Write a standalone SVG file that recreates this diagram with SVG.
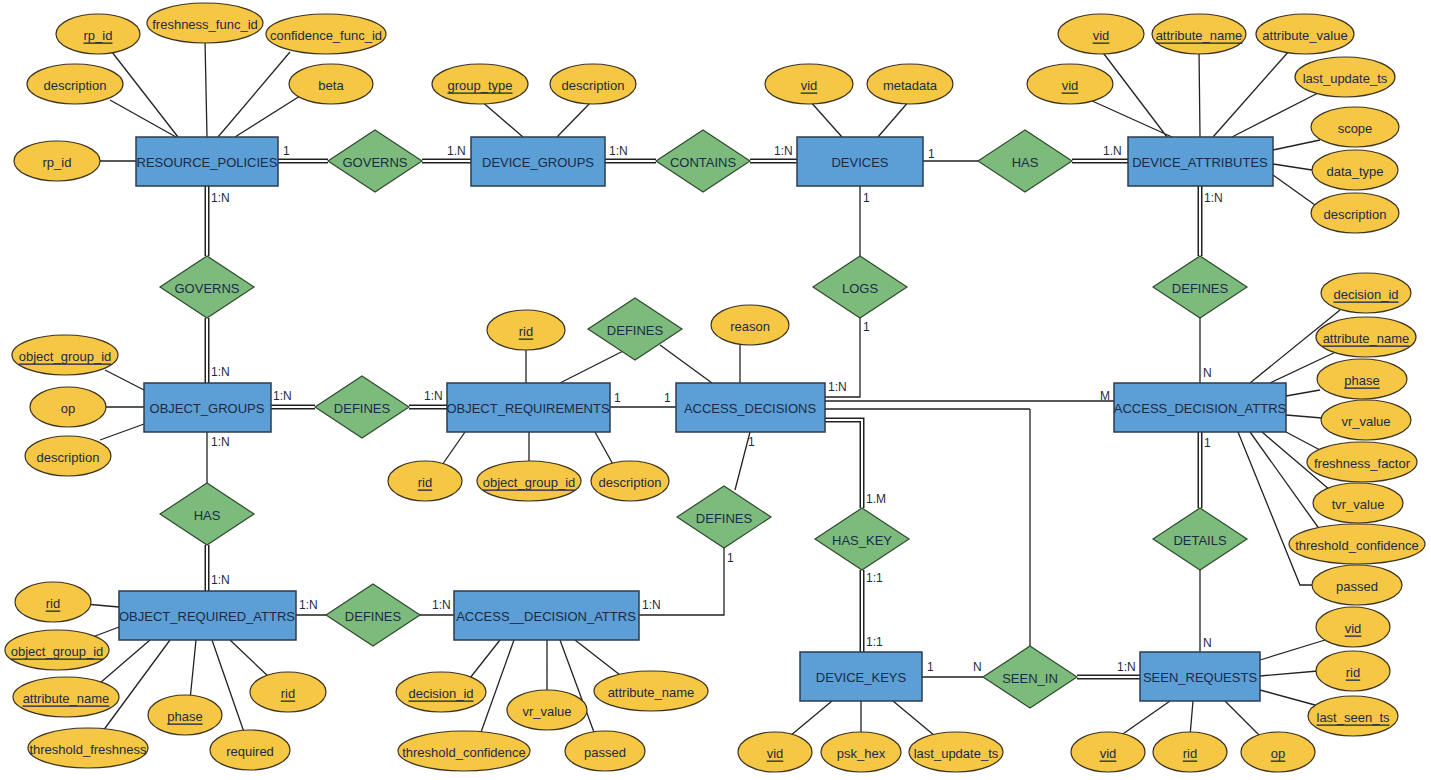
<svg xmlns="http://www.w3.org/2000/svg" width="1431" height="780" viewBox="0 0 1431 780">
<style>
text{font-family:"Liberation Sans",Arial,sans-serif;fill:#1c2b45;text-anchor:middle;dominant-baseline:central}
.en rect{fill:#5b9fd6;stroke:#2e3b4e;stroke-width:1.5}
.en text{font-size:13px}
.rl polygon{fill:#7dbb7d;stroke:#2e4a2e;stroke-width:1.2}
.rl text{font-size:13px}
.at ellipse{fill:#f6c744;stroke:#3a3320;stroke-width:1.2}
.at text{font-size:13px}
.u{text-decoration:underline}
.s{stroke:#222;stroke-width:1.3;fill:none}
.d1{stroke:#222;stroke-width:5;fill:none}
.d2{stroke:#fff;stroke-width:2;fill:none}
.lb{font-size:12px;text-anchor:start}
</style>
<rect width="1431" height="780" fill="#fff"/>
<g id="connectors">
<path class="s" d="M923,161H978 M860,186V256 M860,318V397H825 M1200,318V383 M610,407H676 M635,345L560,383 M660,345L712,383 M750,432L735,490 M724,548V615H639 M207,432V483 M296,615H326 M420,615H454 M1030,409V646 M825,401H1114 M825,409H1030 M1200,570V652 M922,677H983
M98,34L178,137 M205,40L207,137 M290,52L218,137 M110,100L176,137 M300,96L235,137 M100,161H136
M480,100L523,137 M593,100L557,137 M809,100L842,137 M910,100L878,137
M1101,50L1167,137 M1199,50L1200,137 M1290,50L1213,137 M1090,100L1172,137 M1320,92L1232,137 M1320,140L1273,150 M1312,170L1273,164 M1315,205L1273,175
M105,370L144,390 M68,407H144 M100,440L144,424
M526,345V383 M740,340V383 M440,468L465,432 M529,468V432 M615,468L595,432
M1340,310L1250,383 M1340,350L1270,383 M1320,390L1286,396 M1322,418L1286,415 M1320,450L1286,432 M1330,490L1262,432 M1320,530L1250,432 M1312,585H1300L1238,432
M85,604L119,607 M90,638L119,627 M100,683L150,640 M100,735L170,640 M190,700L196,640 M245,735L212,640 M270,678L230,640
M470,678L500,640 M480,735L514,640 M547,693V640 M595,735L560,640 M620,675L575,640
M790,736L832,701 M861,736V701 M935,736L893,701
M1325,640L1260,660 M1318,671L1260,676 M1315,705L1260,690 M1120,736L1170,701 M1190,736L1193,701 M1260,736L1225,701"/>
<path class="d1" d="M278,161H328 M422,161H471 M605,161H656 M750,161H797 M1072,161H1128 M207,186V256 M207,318V383 M1200,186V256 M271,407H315 M409,407H447 M207,545V591 M825,420H862V508 M862,570V652 M1200,432V508 M1077,677H1140"/>
<path class="d2" d="M278,161H328 M422,161H471 M605,161H656 M750,161H797 M1072,161H1128 M207,186V256 M207,318V383 M1200,186V256 M271,407H315 M409,407H447 M207,545V591 M825,420H862V508 M862,570V652 M1200,432V508 M1077,677H1140"/>
<g class="lbs">
<text class="lb" x="283" y="151">1</text><text class="lb" x="447" y="151">1.N</text>
<text class="lb" x="609" y="151">1:N</text><text class="lb" x="774" y="151">1:N</text>
<text class="lb" x="928" y="154">1</text><text class="lb" x="1103" y="151">1.N</text>
<text class="lb" x="211" y="198">1:N</text><text class="lb" x="1204" y="198">1:N</text>
<text class="lb" x="863" y="198">1</text><text class="lb" x="863" y="327">1</text>
<text class="lb" x="828" y="387">1:N</text><text class="lb" x="1203" y="373">N</text>
<text class="lb" x="1100" y="396">M</text><text class="lb" x="211" y="372">1:N</text>
<text class="lb" x="273" y="396">1:N</text><text class="lb" x="424" y="396">1:N</text>
<text class="lb" x="614" y="398">1</text><text class="lb" x="664" y="398">1</text>
<text class="lb" x="211" y="442">1:N</text><text class="lb" x="748" y="442">1</text>
<text class="lb" x="727" y="558">1</text><text class="lb" x="211" y="580">1:N</text>
<text class="lb" x="299" y="605">1:N</text><text class="lb" x="432" y="605">1:N</text>
<text class="lb" x="642" y="605">1:N</text><text class="lb" x="866" y="499">1.M</text>
<text class="lb" x="866" y="578">1:1</text><text class="lb" x="866" y="642">1:1</text>
<text class="lb" x="927" y="667">1</text><text class="lb" x="973" y="667">N</text>
<text class="lb" x="1117" y="667">1:N</text><text class="lb" x="1204" y="443">1</text>
<text class="lb" x="1203" y="643">N</text>
</g>
</g>
<g id="entities" class="en">
<g id="e_rp"><rect x="136" y="137" width="142" height="49"/><text x="207" y="162">RESOURCE_POLICIES</text></g>
<g id="e_dg"><rect x="471" y="137" width="134" height="49"/><text x="538" y="162">DEVICE_GROUPS</text></g>
<g id="e_dev"><rect x="797" y="137" width="126" height="49"/><text x="860" y="162">DEVICES</text></g>
<g id="e_da"><rect x="1128" y="137" width="145" height="49"/><text x="1200" y="162">DEVICE_ATTRIBUTES</text></g>
<g id="e_og"><rect x="144" y="383" width="127" height="49"/><text x="207" y="408">OBJECT_GROUPS</text></g>
<g id="e_or"><rect x="447" y="383" width="163" height="49"/><text x="528" y="408">OBJECT_REQUIREMENTS</text></g>
<g id="e_ad"><rect x="676" y="383" width="149" height="49"/><text x="750" y="408">ACCESS_DECISIONS</text></g>
<g id="e_ada"><rect x="1114" y="383" width="172" height="49"/><text x="1200" y="408">ACCESS_DECISION_ATTRS</text></g>
<g id="e_ora"><rect x="119" y="591" width="177" height="49"/><text x="207" y="616">OBJECT_REQUIRED_ATTRS</text></g>
<g id="e_ada2"><rect x="454" y="591" width="185" height="49"/><text x="546" y="616">ACCESS__DECISION_ATTRS</text></g>
<g id="e_dk"><rect x="800" y="652" width="122" height="49"/><text x="861" y="677">DEVICE_KEYS</text></g>
<g id="e_sr"><rect x="1140" y="652" width="120" height="49"/><text x="1200" y="677">SEEN_REQUESTS</text></g>
</g>
<g id="relations" class="rl">
<g id="r1"><polygon points="328,161 375,130 422,161 375,192"/><text x="375" y="162">GOVERNS</text></g>
<g id="r2"><polygon points="656,161 703,130 750,161 703,192"/><text x="703" y="162">CONTAINS</text></g>
<g id="r3"><polygon points="978,161 1025,130 1072,161 1025,192"/><text x="1025" y="162">HAS</text></g>
<g id="r4"><polygon points="160,287 207,256 254,287 207,318"/><text x="207" y="288">GOVERNS</text></g>
<g id="r5"><polygon points="813,287 860,256 907,287 860,318"/><text x="860" y="288">LOGS</text></g>
<g id="r6"><polygon points="1153,287 1200,256 1247,287 1200,318"/><text x="1200" y="288">DEFINES</text></g>
<g id="r7"><polygon points="315,407 362,376 409,407 362,438"/><text x="362" y="408">DEFINES</text></g>
<g id="r8"><polygon points="588,329 635,298 682,329 635,360"/><text x="635" y="330">DEFINES</text></g>
<g id="r9"><polygon points="677,517 724,486 771,517 724,548"/><text x="724" y="518">DEFINES</text></g>
<g id="r10"><polygon points="160,514 207,483 254,514 207,545"/><text x="207" y="515">HAS</text></g>
<g id="r11"><polygon points="815,539 862,508 909,539 862,570"/><text x="862" y="540">HAS_KEY</text></g>
<g id="r12"><polygon points="1153,539 1200,508 1247,539 1200,570"/><text x="1200" y="540">DETAILS</text></g>
<g id="r13"><polygon points="326,615 373,584 420,615 373,646"/><text x="373" y="616">DEFINES</text></g>
<g id="r14"><polygon points="983,677 1030,646 1077,677 1030,708"/><text x="1030" y="678">SEEN_IN</text></g>
</g>
<g id="attributes" class="at">
<g><ellipse cx="98" cy="34" rx="42" ry="20"/><text class="u" x="98" y="35">rp_id</text></g>
<g><ellipse cx="205" cy="23" rx="58" ry="20"/><text x="205" y="24">freshness_func_id</text></g>
<g><ellipse cx="326" cy="34" rx="60" ry="20"/><text x="326" y="35">confidence_func_id</text></g>
<g><ellipse cx="75" cy="84" rx="48" ry="20"/><text x="75" y="85">description</text></g>
<g><ellipse cx="331" cy="84" rx="42" ry="20"/><text x="331" y="85">beta</text></g>
<g><ellipse cx="57" cy="161" rx="43" ry="20"/><text x="57" y="162">rp_id</text></g>
<g><ellipse cx="480" cy="84" rx="48" ry="20"/><text class="u" x="480" y="85">group_type</text></g>
<g><ellipse cx="593" cy="84" rx="43" ry="20"/><text x="593" y="85">description</text></g>
<g><ellipse cx="809" cy="84" rx="44" ry="20"/><text class="u" x="809" y="85">vid</text></g>
<g><ellipse cx="910" cy="84" rx="43" ry="20"/><text x="910" y="85">metadata</text></g>
<g><ellipse cx="1101" cy="34" rx="43" ry="20"/><text class="u" x="1101" y="35">vid</text></g>
<g><ellipse cx="1199" cy="34" rx="47" ry="20"/><text class="u" x="1199" y="35">attribute_name</text></g>
<g><ellipse cx="1305" cy="34" rx="49" ry="20"/><text x="1305" y="35">attribute_value</text></g>
<g><ellipse cx="1070" cy="84" rx="43" ry="20"/><text class="u" x="1070" y="85">vid</text></g>
<g><ellipse cx="1345" cy="77" rx="50" ry="20"/><text x="1345" y="78">last_update_ts</text></g>
<g><ellipse cx="1355" cy="127" rx="44" ry="20"/><text x="1355" y="128">scope</text></g>
<g><ellipse cx="1355" cy="170" rx="43" ry="20"/><text x="1355" y="171">data_type</text></g>
<g><ellipse cx="1355" cy="213" rx="44" ry="20"/><text x="1355" y="214">description</text></g>
<g><ellipse cx="65" cy="355" rx="53" ry="20"/><text class="u" x="65" y="356">object_group_id</text></g>
<g><ellipse cx="68" cy="407" rx="38" ry="20"/><text x="68" y="408">op</text></g>
<g><ellipse cx="68" cy="456" rx="43" ry="20"/><text x="68" y="457">description</text></g>
<g><ellipse cx="526" cy="330" rx="39" ry="20"/><text class="u" x="526" y="331">rid</text></g>
<g><ellipse cx="750" cy="325" rx="39" ry="20"/><text x="750" y="326">reason</text></g>
<g><ellipse cx="425" cy="481" rx="37" ry="20"/><text class="u" x="425" y="482">rid</text></g>
<g><ellipse cx="529" cy="481" rx="52" ry="20"/><text class="u" x="529" y="482">object_group_id</text></g>
<g><ellipse cx="630" cy="481" rx="39" ry="20"/><text x="630" y="482">description</text></g>
<g><ellipse cx="1366" cy="293" rx="45" ry="20"/><text class="u" x="1366" y="294">decision_id</text></g>
<g><ellipse cx="1366" cy="337" rx="50" ry="20"/><text class="u" x="1366" y="338">attribute_name</text></g>
<g><ellipse cx="1362" cy="379" rx="45" ry="20"/><text class="u" x="1362" y="380">phase</text></g>
<g><ellipse cx="1366" cy="420" rx="45" ry="20"/><text x="1366" y="421">vr_value</text></g>
<g><ellipse cx="1362" cy="462" rx="55" ry="20"/><text x="1362" y="463">freshness_factor</text></g>
<g><ellipse cx="1358" cy="503" rx="45" ry="20"/><text x="1358" y="504">tvr_value</text></g>
<g><ellipse cx="1357" cy="544" rx="68" ry="20"/><text x="1357" y="545">threshold_confidence</text></g>
<g><ellipse cx="1357" cy="585" rx="45" ry="20"/><text x="1357" y="586">passed</text></g>
<g><ellipse cx="53" cy="602" rx="38" ry="20"/><text class="u" x="53" y="603">rid</text></g>
<g><ellipse cx="57" cy="650" rx="52" ry="20"/><text class="u" x="57" y="651">object_group_id</text></g>
<g><ellipse cx="66" cy="697" rx="53" ry="20"/><text class="u" x="66" y="698">attribute_name</text></g>
<g><ellipse cx="185" cy="715" rx="37" ry="20"/><text class="u" x="185" y="716">phase</text></g>
<g><ellipse cx="288" cy="692" rx="38" ry="20"/><text class="u" x="288" y="693">rid</text></g>
<g><ellipse cx="88" cy="748" rx="60" ry="20"/><text x="88" y="749">threshold_freshness</text></g>
<g><ellipse cx="250" cy="750" rx="40" ry="20"/><text x="250" y="751">required</text></g>
<g><ellipse cx="441" cy="692" rx="45" ry="20"/><text class="u" x="441" y="693">decision_id</text></g>
<g><ellipse cx="547" cy="710" rx="40" ry="20"/><text x="547" y="711">vr_value</text></g>
<g><ellipse cx="651" cy="691" rx="57" ry="20"/><text x="651" y="692">attribute_name</text></g>
<g><ellipse cx="464" cy="751" rx="66" ry="20"/><text x="464" y="752">threshold_confidence</text></g>
<g><ellipse cx="605" cy="751" rx="40" ry="20"/><text x="605" y="752">passed</text></g>
<g><ellipse cx="775" cy="752" rx="37" ry="20"/><text class="u" x="775" y="753">vid</text></g>
<g><ellipse cx="861" cy="752" rx="40" ry="20"/><text x="861" y="753">psk_hex</text></g>
<g><ellipse cx="956" cy="752" rx="47" ry="20"/><text x="956" y="753">last_update_ts</text></g>
<g><ellipse cx="1353" cy="627" rx="37" ry="20"/><text class="u" x="1353" y="628">vid</text></g>
<g><ellipse cx="1353" cy="671" rx="37" ry="20"/><text class="u" x="1353" y="672">rid</text></g>
<g><ellipse cx="1353" cy="716" rx="45" ry="20"/><text class="u" x="1353" y="717">last_seen_ts</text></g>
<g><ellipse cx="1108" cy="752" rx="37" ry="20"/><text class="u" x="1108" y="753">vid</text></g>
<g><ellipse cx="1190" cy="752" rx="37" ry="20"/><text class="u" x="1190" y="753">rid</text></g>
<g><ellipse cx="1278" cy="752" rx="37" ry="20"/><text class="u" x="1278" y="753">op</text></g>
</g>
</svg>
